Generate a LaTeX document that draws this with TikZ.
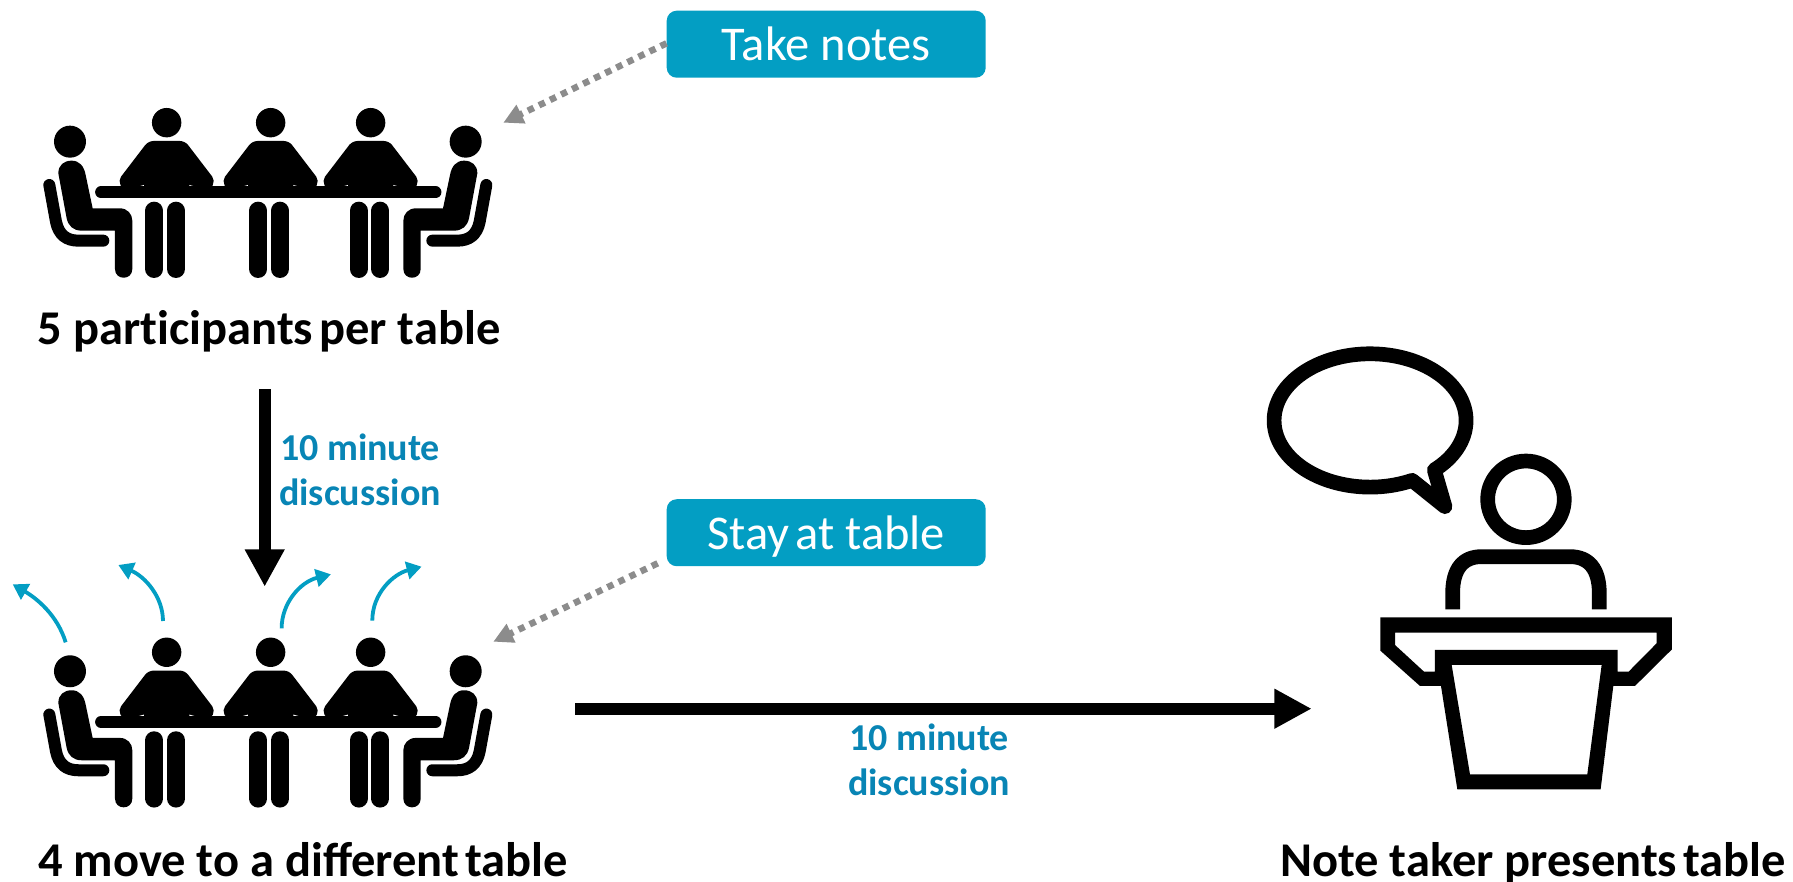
\documentclass[tikz,border=0pt]{standalone}
\usepackage{fontspec}
\setmainfont{Carlito}
\usetikzlibrary{arrows.meta}
\definecolor{teal}{HTML}{039EC3}
\definecolor{labelblue}{HTML}{0885B5}
\definecolor{dotgrey}{HTML}{8C8C8C}
\newcommand{\ns}{\kern6pt\relax}
\newcommand{\noli}{\kern0pt\relax}
\tikzset{
  x=1pt,y=-1pt,
  legbar/.style={line width=18pt,line cap=round,draw=black},
  boxnode/.style={fill=teal,rounded corners=10pt,text=white,font=\fontsize{48.5}{52}\selectfont,minimum width=319pt,minimum height=67pt,inner sep=0pt,text height=33pt,text depth=0pt},
  caption/.style={font=\bfseries\fontsize{48.5}{52}\selectfont,inner sep=0pt,anchor=base},
  minutes/.style={font=\bfseries\fontsize{38}{45.5}\selectfont,text=labelblue,inner sep=0pt,align=center},
  mainarrow/.style={line width=12.3pt,draw=black,-{Triangle[length=37.4pt,width=37.4pt]}},
  moveflow/.style={line width=3.8pt,draw=teal,-{Triangle[length=15pt,width=17.5pt]}},
  dotflow/.style={line width=6.5pt,draw=dotgrey,dash pattern=on 6.5pt off 5.8pt,-{Triangle[length=19.7pt,width=19.5pt]}},
  podiumstroke/.style={line width=14.7pt,draw=black,line join=round},
}
\newcommand{\sideperson}{%
  \fill (150,155) circle[radius=16pt];
  \fill (115,250) .. controls (115,225) and (132,212) .. (155,212) .. controls (178,212) and (192,228) .. (197,255) -- (218,355) -- (300,355) .. controls (322,355) and (337,372) .. (337,392) -- (337,537) .. controls (337,572) and (285,572) .. (285,537) -- (285,422) -- (185,422) .. controls (160,422) and (145,408) .. (140,385) -- cycle;
  \draw[line width=12pt,line cap=round,line join=round] (88,285) -- (108,395) .. controls (116,435) and (140,452) .. (175,452) -- (250,452);
}
\newcommand{\tablegroup}{%
  \begin{scope}[x=0.3333pt,y=-0.3333pt]
    \sideperson
    \begin{scope}[xshift=495.67pt,xscale=-1]\sideperson\end{scope}
    \foreach \cx/\lx in {440/435,752/747,1052/1048}{
      \fill (\cx,98) circle[radius=14.7pt];
      \fill[rounded corners=5pt] (\cx-55,153) -- (\cx+55,153) -- (\cx+146,272) -- (\cx+130,300) -- (\cx-130,300) -- (\cx-146,272) -- cycle;
      \fill[white] (\cx-90,291) -- (\cx-68,285) -- (\cx-68,291) -- cycle;
      \fill[white] (\cx+90,291) -- (\cx+68,285) -- (\cx+68,291) -- cycle;
      \draw[legbar] (\lx-32,362) -- (\lx-32,537);
      \draw[legbar] (\lx+33,362) -- (\lx+33,537);
    }
    \draw[line width=11.7pt,line cap=round] (243,307) -- (1247,307);
  \end{scope}
}
\begin{document}
\begin{tikzpicture}[x=1pt,y=-1pt]
\useasboundingbox (0,0) rectangle (1793,881);
% table groups
\begin{scope}[shift={(20,90)}]\tablegroup\end{scope}
\begin{scope}[shift={(20,619.6)}]\tablegroup\end{scope}
% podium
\begin{scope}[shift={(1240,330)},x=0.3333pt,y=-0.3333pt]
  \draw[podiumstroke] (583,420) arc[start angle=48,end angle=-296,x radius=288,y radius=200] -- (615,530) -- cycle;
  \draw[podiumstroke] (858,508) circle[radius=38.3pt];
  \draw[line width=14.7pt] (638,838) -- (638,790) .. controls (638,715) and (670,680) .. (725,680) -- (990,680) .. controls (1045,680) and (1078,715) .. (1078,790) -- (1078,838);
  \fill[even odd rule] (421,862) -- (1296,862) -- (1296,958) -- (1185,1068) -- (1120,1068) -- (1082,1378) -- (652,1378) -- (603,1068) -- (540,1068) -- (421,962) -- cycle
    (465,908) -- (1250,908) -- (1250,940) -- (1166,1025) -- (1133,1025) -- (1133,960) -- (585,960) -- (585,1025) -- (552,1025) -- (465,945) -- cycle
    (635,1005) -- (1085,1005) -- (1042,1333) -- (690,1333) -- cycle;
\end{scope}
% boxes
\node[boxnode] (notes) at (826.2,44.2) {Take notes};
\node[boxnode] (stay) at (826.2,532.7) {Stay\ns at table};
% captions
\node[caption] (cap1) at (269,344) {5 part\noli icipants\ns per table};
\node[caption] (cap2) at (303,876) {4 move to a different\ns table};
\node[caption] (cap3) at (1533,876) {Note taker presents\ns table};
\node[minutes] (min1) at (360,470) {10 minute\\discussion};
\node[minutes] (min2) at (929,760) {10 minute\\discussion};
% flow
\coordinate (a1s) at (264.7,389);
\coordinate (a1e) at (264.7,586.7);
\coordinate (a2s) at (575,708.7);
\coordinate (a2e) at (1311.7,708.7);
\draw[mainarrow] (a1s) -- (a1e);
\draw[mainarrow] (a2s) -- (a2e);
\coordinate (n1) at (503.3,122.7);
\coordinate (n2s) at (657.7,563.3);
\coordinate (n2) at (493.3,641.7);
\draw[dotflow] (notes.west |- 0,43.3) -- (n1);
\draw[dotflow] (n2s) -- (n2);
\begin{scope}[shift={(0,540)},x=0.3333pt,y=-0.3333pt]
  \coordinate (b1s) at (197,307); \coordinate (b1e) at (38,133);
  \coordinate (b2s) at (489,243); \coordinate (b2e) at (355,75);
  \coordinate (b3s) at (845,265); \coordinate (b3e) at (993,103);
  \coordinate (b4s) at (1117,242); \coordinate (b4e) at (1265,80);
  \draw[moveflow] (b1s) .. controls (172,225) and (110,175) .. (b1e);
  \draw[moveflow] (b2s) .. controls (489,170) and (435,110) .. (b2e);
  \draw[moveflow] (b3s) .. controls (845,190) and (900,126) .. (b3e);
  \draw[moveflow] (b4s) .. controls (1117,160) and (1180,102) .. (b4e);
\end{scope}
\end{tikzpicture}
\end{document}
